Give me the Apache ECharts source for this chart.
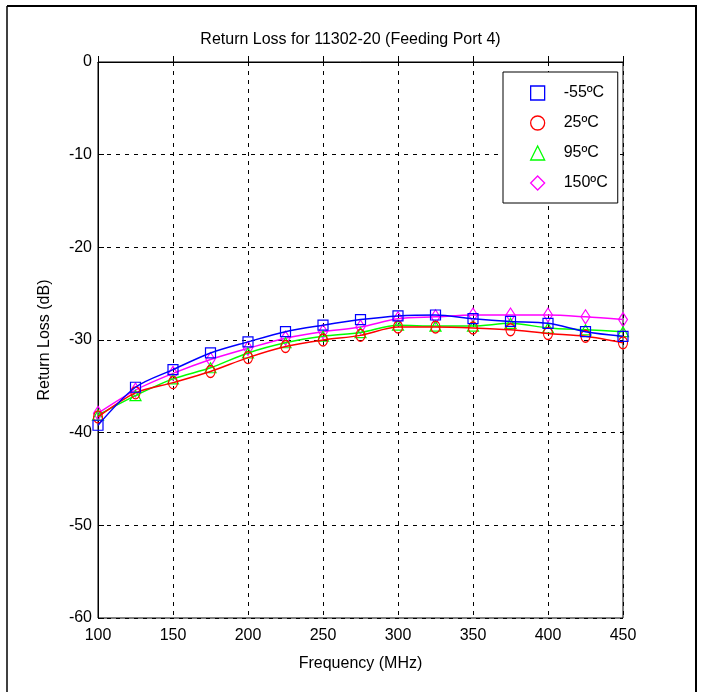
<!DOCTYPE html>
<html><head><meta charset="utf-8">
<script src="https://cdn.jsdelivr.net/npm/echarts@6/dist/echarts.min.js"></script>
<style>html,body{margin:0;padding:0;background:#fff}#c{width:701px;height:692px}</style>
</head><body><div id="c"></div>
<script>
var freq = [100,125,150,175,200,225,250,275,300,325,350,375,400,425,450];
var sM55 = [-39.2,-35.1,-33.2,-31.4,-30.2,-29.1,-28.4,-27.8,-27.4,-27.3,-27.7,-28.0,-28.2,-29.1,-29.6];
var s25  = [-38.3,-35.7,-34.6,-33.4,-31.9,-30.7,-30.0,-29.5,-28.6,-28.6,-28.7,-28.9,-29.3,-29.6,-30.3];
var s95  = [-38.1,-36.0,-34.2,-33.0,-31.4,-30.3,-29.6,-29.2,-28.4,-28.5,-28.5,-28.2,-28.7,-28.9,-29.1];
var s150 = [-37.9,-35.4,-33.6,-32.1,-30.9,-29.8,-29.1,-28.6,-27.7,-27.5,-27.3,-27.3,-27.3,-27.5,-27.8];
var names = ['-55ºC','25ºC','95ºC','150ºC'];
var colors = ['#0000ff','#ff0000','#00ff00','#ff00ff'];
var symbols = ['rect','circle','triangle','diamond'];
var sizes = [[10,10],[9,12],[11,10],[9,14]];
var yTicks = [0,-10,-20,-30,-40,-50,-60];
var font = "'Liberation Sans Narrow','Liberation Sans',Arial,sans-serif";
var all = [sM55,s25,s95,s150];
function pairs(a){return freq.map(function(f,i){return [f,a[i]];});}
var series = all.map(function(a,k){
  return {name:names[k], type:'line', data:pairs(a), smooth:0.3,
    symbol:symbols[k], symbolSize:sizes[k], showSymbol:true,
    lineStyle:{color:colors[k], width:1.5},
    itemStyle:{color:'rgba(255,255,255,0)', borderColor:colors[k], borderWidth:1.2},
    emphasis:{disabled:true}, z: 10-k};
});
var chart = echarts.init(document.getElementById('c'));
chart.setOption({
  animation:false,
  backgroundColor:'#fff',
  title:{text:'Return Loss for 11302-20 (Feeding Port 4)', left:'center', top:27,
    textStyle:{fontFamily:font, fontSize:16, fontWeight:'normal', color:'#000'}},
  grid:{left:98, top:62, width:525, height:556, show:true, borderColor:'#000', borderWidth:1, backgroundColor:'#fff'},
  legend:{left:503, top:72, orient:'vertical', itemGap:14, itemWidth:14, itemHeight:14,
    padding:[13,10,12,27], backgroundColor:'#fff', borderColor:'#000', borderWidth:1,
    textStyle:{fontFamily:font, fontSize:16, color:'#000', padding:[0,0,0,14]},
    data:names.map(function(n,k){return {name:n, icon:symbols[k],
      itemStyle:{color:'#fff', borderColor:colors[k], borderWidth:1.3}};})},
  xAxis:{type:'value', min:100, max:450, interval:50,
    name:'Frequency (MHz)', nameLocation:'middle', nameGap:38,
    nameTextStyle:{fontFamily:font, fontSize:16, color:'#000'},
    axisLine:{show:true, lineStyle:{color:'#000'}},
    axisTick:{show:true, inside:true, length:6, lineStyle:{color:'#000'}},
    axisLabel:{fontFamily:font, fontSize:16, color:'#000', margin:10},
    splitLine:{show:true, lineStyle:{color:'#000', type:[4,5], width:1}}},
  yAxis:{type:'value', min:-60, max:0, interval:10,
    name:'Return Loss (dB)', nameLocation:'middle', nameGap:45,
    nameTextStyle:{fontFamily:font, fontSize:16, color:'#000'},
    axisLine:{show:true, lineStyle:{color:'#000'}},
    axisTick:{show:true, inside:true, length:6, lineStyle:{color:'#000'}},
    axisLabel:{fontFamily:font, fontSize:16, color:'#000', margin:6,
      formatter:function(v){return yTicks.indexOf(v)>=0?String(v):'';}},
    splitLine:{show:true, lineStyle:{color:'#000', type:[4,5], width:1}}},
  graphic:[
    {type:'line', shape:{x1:7,y1:6,x2:697,y2:6}, style:{stroke:'#000', lineWidth:2}},
    {type:'line', shape:{x1:7,y1:6,x2:7,y2:692}, style:{stroke:'#000', lineWidth:1.5}},
    {type:'line', shape:{x1:696,y1:6,x2:696,y2:692}, style:{stroke:'#000', lineWidth:2}}
  ],
  series:series
});
</script></body></html>
